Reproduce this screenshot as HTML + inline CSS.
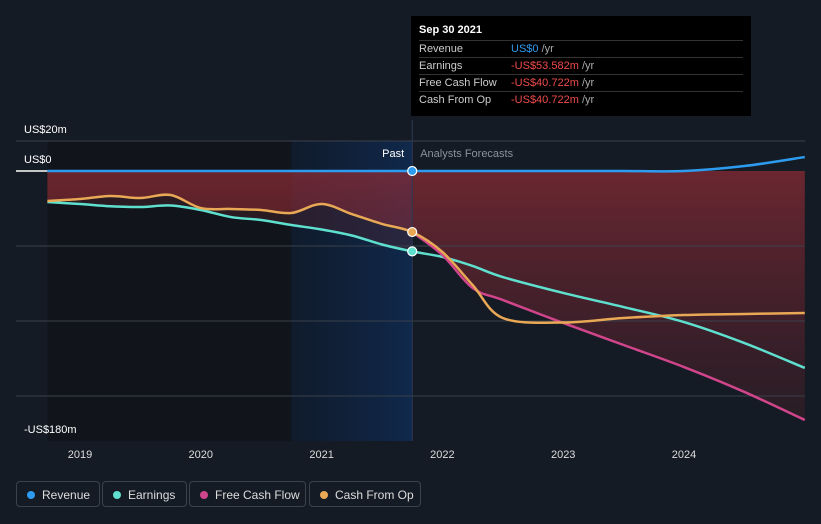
<!DOCTYPE html>
<html><head><meta charset="utf-8"><style>
body{margin:0;background:#151b24;font-family:"Liberation Sans",sans-serif;}
#wrap{position:relative;width:821px;height:524px;overflow:hidden;background:#151b24;}
.tt{position:absolute;left:411px;top:16px;width:340px;height:100px;background:#000;color:#ddd;font-size:11px;}
.tt .row{position:absolute;left:8px;width:324px;border-top:1px solid #333;height:16px;line-height:16px;}
.tt .k{position:absolute;left:0;color:#ccc}
.tt .v{position:absolute;left:92px}
.leg{position:absolute;top:481px;height:26px;border:1px solid #3a4250;border-radius:4px;color:#ddd;font-size:12px;line-height:26px;padding:0 0 0 25px;box-sizing:border-box;white-space:nowrap;}
.leg i{position:absolute;left:10px;top:9px;width:8px;height:8px;border-radius:50%;}
</style></head><body>
<div id="wrap">
<svg id="chart" width="821" height="524" style="position:absolute;left:0;top:0">
<defs>
<linearGradient id="redg" gradientUnits="userSpaceOnUse" x1="0" y1="171" x2="0" y2="441"><stop offset="0" stop-color="#9a2d36" stop-opacity="0.65"/><stop offset="0.6" stop-color="#6a2430" stop-opacity="0.45"/><stop offset="1" stop-color="#4a2028" stop-opacity="0.3"/></linearGradient>
<linearGradient id="blueg" x1="0" y1="0" x2="1" y2="0"><stop offset="0" stop-color="#0d1c33" stop-opacity="0.6"/><stop offset="1" stop-color="#0f2a50" stop-opacity="0.9"/></linearGradient>
</defs>
<g id="bg"></g><g id="grid"></g><g id="marks"></g><g id="labels"></g>
</svg>
<div class="tt">
<div style="position:absolute;left:8px;top:8px;color:#fff;font-weight:bold;font-size:11px">Sep 30 2021</div>
<div class="row" style="top:24px"><span class="k">Revenue</span><span class="v" style="color:#2d9cf0">US$0 <span style="color:#aaa">/yr</span></span></div>
<div class="row" style="top:41px"><span class="k">Earnings</span><span class="v" style="color:#f04b4b">-US$53.582m <span style="color:#aaa">/yr</span></span></div>
<div class="row" style="top:58px"><span class="k">Free Cash Flow</span><span class="v" style="color:#f04b4b">-US$40.722m <span style="color:#aaa">/yr</span></span></div>
<div class="row" style="top:75px"><span class="k">Cash From Op</span><span class="v" style="color:#f04b4b">-US$40.722m <span style="color:#aaa">/yr</span></span></div>
</div>
<div class="leg" style="left:16px;width:84px"><i style="background:#2d9cf0"></i>Revenue</div>
<div class="leg" style="left:102px;width:85px"><i style="background:#5fe0cf"></i>Earnings</div>
<div class="leg" style="left:189px;width:117px"><i style="background:#d0458b"></i>Free Cash Flow</div>
<div class="leg" style="left:309px;width:112px"><i style="background:#e8a855"></i>Cash From Op</div>
</div>
<script>
const xYears=[2019,2020,2021,2022,2023,2024];
const yTicks=[20,0,-180];
const revT=[2018.73,2021.75,2022.5,2023,2023.5,2024,2024.5,2025];
const revV=[0,0,0,0,0,0,3.3,9.3];
const earnT=[2018.73,2019,2019.25,2019.5,2019.75,2020,2020.25,2020.5,2020.75,2021,2021.25,2021.5,2021.75,2022,2022.25,2022.5,2023,2023.5,2024,2024.5,2025];
const earnV=[-20.7,-22,-23.5,-24,-23,-26,-30.7,-32.7,-36,-39,-43,-49,-53.6,-57.3,-63.3,-70.7,-81.3,-90.7,-100.7,-114.7,-131.3];
const cfoT=[2018.73,2019,2019.25,2019.5,2019.75,2020,2020.25,2020.5,2020.75,2021,2021.25,2021.5,2021.75,2022,2022.25,2022.5,2023,2023.5,2024,2024.5,2025];
const cfoV=[-20,-18.7,-16.7,-18,-16,-24.7,-25.3,-26,-28,-22,-28.7,-35.3,-40.7,-54,-76,-98,-101,-98,-96,-95.3,-94.7];
const fcfT=[2021.75,2022,2022.25,2022.5,2023,2023.5,2024,2024.5,2025];
const fcfV=[-40.7,-56,-78,-86,-101.3,-116,-130.7,-147.3,-166];
const X=t=>80+(t-2019)*120.8;
const Y=v=>171-v*1.5;
const NS='http://www.w3.org/2000/svg';
function mk(p,tag,a){const e=document.createElementNS(NS,tag);for(const k in a)e.setAttribute(k,a[k]);document.getElementById(p).appendChild(e);return e;}
function path(T,V){const p=T.map((t,i)=>[X(t),Y(V[i])]);let d='M'+p[0][0]+','+p[0][1];for(let i=1;i<p.length;i++){const p0=p[i-2]||p[i-1],p1=p[i-1],p2=p[i],p3=p[i+1]||p[i];d+=' C'+(p1[0]+(p2[0]-p0[0])/6)+','+(p1[1]+(p2[1]-p0[1])/6)+' '+(p2[0]-(p3[0]-p1[0])/6)+','+(p2[1]-(p3[1]-p1[1])/6)+' '+p2[0]+','+p2[1];}return d;}
const x0=X(2018.73),xp=X(2021.75),xe=X(2025);
let e;
e=mk('bg','rect',{x:x0,y:141,width:X(2020.75)-x0,height:300,fill:'#11151b'});

e=mk('bg','rect',{x:X(2020.75),y:141,width:xp-X(2020.75),height:300,fill:'url(#blueg)'});

const nPast=cfoT.indexOf(2021.75);
const lowT=cfoT.slice(0,nPast).concat(fcfT);
const lowV=cfoV.slice(0,nPast).concat(fcfV);
e=mk('bg','path',{d:path(lowT,lowV)+' L'+xe+','+Y(0)+' L'+x0+','+Y(0)+' Z',fill:'url(#redg)'});

const nE=earnT.indexOf(2021.75);
e=mk('bg','path',{d:path(cfoT.slice(0,nE+1),cfoV.slice(0,nE+1))+' L'+xp+','+Y(earnV[nE])+' '+path(earnT.slice(0,nE+1).reverse(),earnV.slice(0,nE+1).reverse()).replace('M',' L')+' Z',fill:'#5a2530','fill-opacity':0.35});

e=mk('bg','line',{x1:xp,y1:120,x2:xp,y2:441,stroke:'#2a3a55','stroke-width':1});

[20,-50,-100,-150].forEach(v=>{e=mk('grid','line',{x1:16,x2:805,y1:Y(v),y2:Y(v),stroke:'#39404b','stroke-width':1});
});
e=mk('grid','line',{x1:16,x2:x0,y1:Y(0),y2:Y(0),stroke:'#fff','stroke-width':1.5});

yTicks.forEach(v=>{e=mk('labels','text',{x:24,y:Y(v)-8,fill:'#fff','font-size':11});e.textContent=(v<0?'-US$':'US$')+Math.abs(v)+'m';if(v===0)e.textContent='US$0';
});
xYears.forEach(y=>{e=mk('labels','text',{x:X(y),y:458,fill:'#ddd','font-size':11,'text-anchor':'middle'});e.textContent=y;
});
e=mk('labels','text',{x:xp-8,y:157,fill:'#fff','font-size':11,'text-anchor':'end'});e.textContent='Past';

e=mk('labels','text',{x:xp+8,y:157,fill:'#8a919c','font-size':11});e.textContent='Analysts Forecasts';

const series=[['earnings-line',earnT,earnV,'#5fe0cf'],['free-cash-flow-line',fcfT,fcfV,'#d0458b'],['cash-from-op-line',cfoT,cfoV,'#e8a855'],['revenue-line',revT,revV,'#2d9cf0']];
series.forEach(s=>{e=mk('marks','path',{d:path(s[1],s[2]),fill:'none',stroke:s[3],'stroke-width':2.5});
});
[[revV[1],'#2d9cf0','revenue-point'],[cfoV[12],'#e8a855','cash-from-op-point'],[earnV[12],'#5fe0cf','earnings-point']].forEach(p=>{
e=mk('marks','circle',{cx:xp,cy:Y(p[0]),r:4.5,fill:p[1],stroke:'#fff','stroke-width':1.2});
});
</script>
</body></html>
